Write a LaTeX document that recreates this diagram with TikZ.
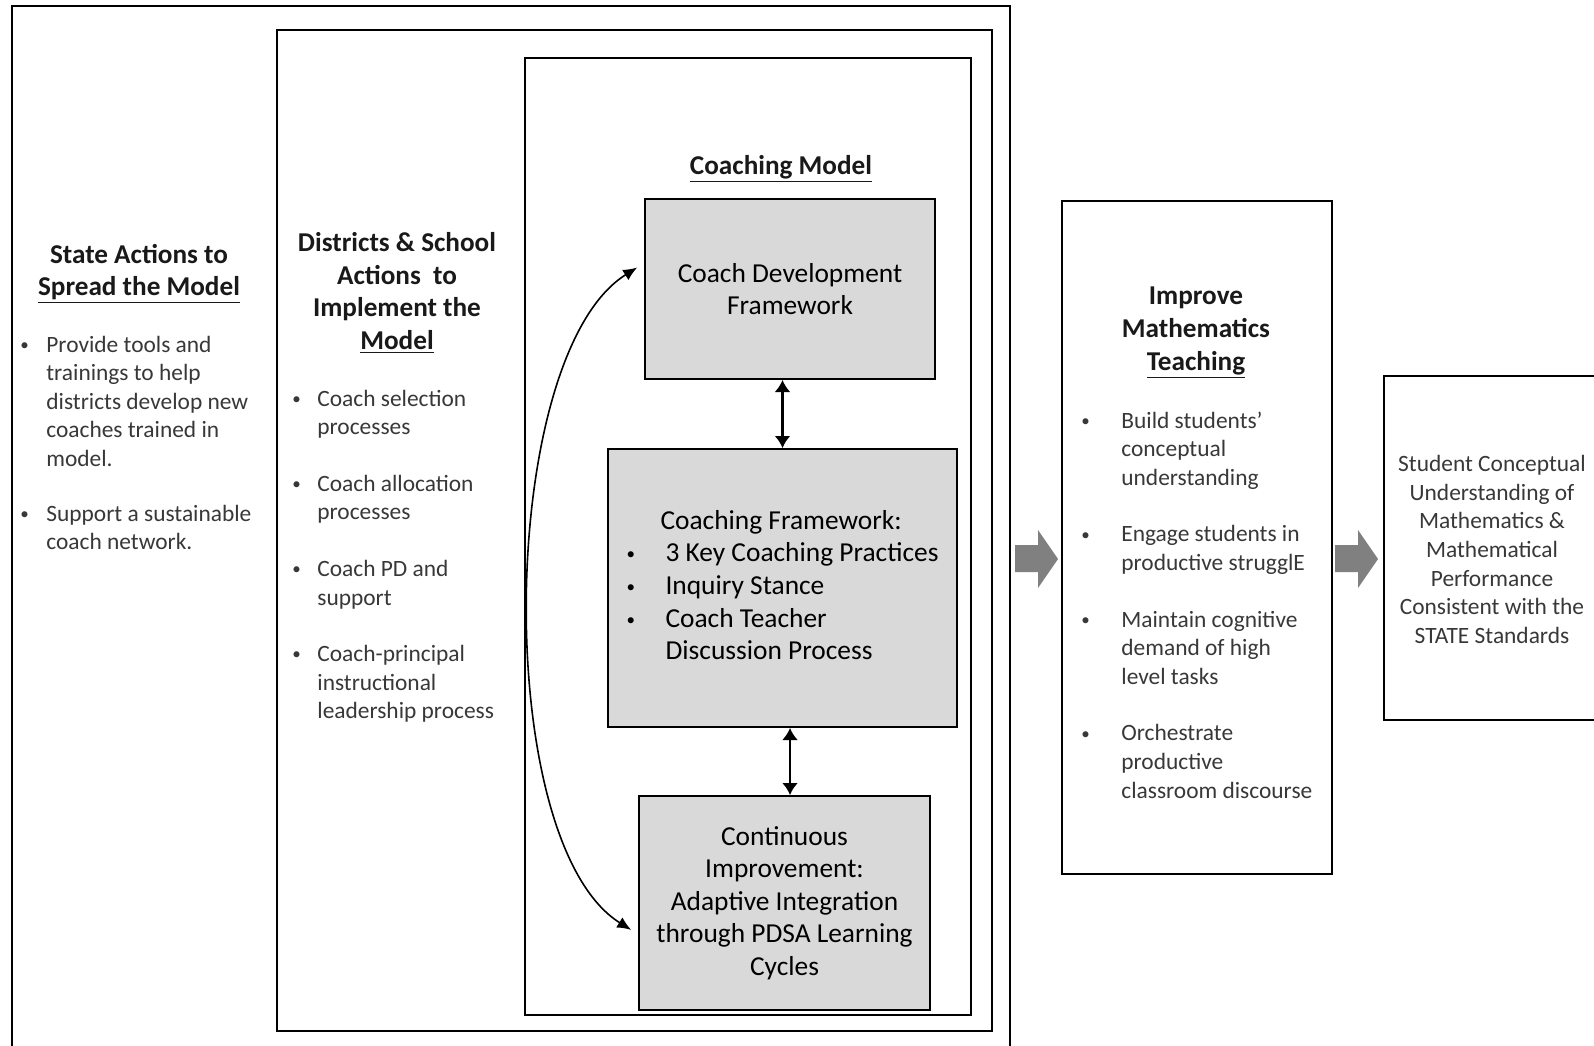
\documentclass[tikz,border=0pt]{standalone}
\usepackage{fontspec}
\setmainfont{Carlito}
\usetikzlibrary{arrows.meta}

\definecolor{boxgray}{HTML}{D9D9D9}
\definecolor{arrowgray}{HTML}{808080}
\definecolor{bodytext}{HTML}{383838}

\newcommand{\bul}[1]{\makebox[#1][l]{\raisebox{0.15ex}{\fontsize{8.5}{8.5}\selectfont\textbullet}}}

\begin{document}
\begin{tikzpicture}[x=0.5pt, y=-0.5pt,
    frame/.style={draw, line width=1pt},
    graybox/.style={draw, line width=1pt, fill=boxgray, align=center, inner sep=0pt,
      font=\fontsize{13.7}{16.3}\selectfont},
    coltitle/.style={align=center, inner sep=0pt, text=black!90,
      font=\bfseries\fontsize{13.6}{16.3}\selectfont},
    coltext/.style={anchor=base west, inner sep=0pt, text=bodytext,
      font=\fontsize{11.7}{14.3}\selectfont},
    linkarrow/.style={{Latex[length=6pt,width=8pt]}-{Latex[length=6pt,width=8pt]}, line width=1.4pt},
    loopback/.style={{Latex[length=7pt,width=6pt]}-{Latex[length=7pt,width=6pt]}, line width=0.8pt}]
    \useasboundingbox (0,0) rectangle (1594,1045);
    \clip (0,0) rectangle (1594,1045);
    \fill[white] (0,0) rectangle (1594,1045);

    % Draw the nested frames
    \draw[frame] (12,6) rectangle (1010,1060);
    \draw[frame] (277,30) rectangle (992,1031);
    \draw[frame] (525,58) rectangle (971,1015);
    \draw[frame] (1062,201) rectangle (1332,874);
    \draw[frame] (1384,376) rectangle (1620,720);

    % State column
    \node[coltitle] (statetitle) at (139,274) {State Actions to\\\underline{Spread the Model}};
    \node[coltext] (statelist) at (20,352) {\begin{tabular}[t]{@{}l@{}l@{}}
        \bul{13pt} & Provide tools and\\
        & trainings to help\\
        & districts develop new\\
        & coaches trained in\\
        & model.\\[13pt]
        \bul{13pt} & Support a sustainable\\
        & coach network.
      \end{tabular}};

    % District column
    \node[coltitle] (disttitle) at (397,293) {Districts \& School\\Actions~~to\\Implement the\\\underline{Model}};
    \node[coltext] (distlist) at (292,406) {\begin{tabular}[t]{@{}l@{}l@{}}
        \bul{12.5pt} & Coach selection\\
        & processes\\[14pt]
        \bul{12.5pt} & Coach allocation\\
        & processes\\[14pt]
        \bul{12.5pt} & Coach PD and\\
        & support\\[14pt]
        \bul{12.5pt} & Coach-principal\\
        & instructional\\
        & leadership process
      \end{tabular}};

    % Coaching model
    \node[coltitle] (cmtitle) at (781,169) {\underline{Coaching Model}};
    \node[graybox, minimum width=145pt, minimum height=90pt] (cdf) at (790,289)
      {Coach Development\\Framework};
    \node[graybox, minimum width=174.5pt, minimum height=139pt] (cfw) at (782.5,588)
      {\begin{tabular}{@{}l@{}l@{}}
        \multicolumn{2}{@{}l@{}}{\hspace{17pt}Coaching Framework:}\\
        \bul{19.5pt} & 3 Key Coaching Practices\\
        \bul{19.5pt} & Inquiry Stance\\
        \bul{19.5pt} & Coach Teacher\\
        & Discussion Process
      \end{tabular}};
    \node[graybox, minimum width=145.5pt, minimum height=107pt] (ci) at (784.5,903)
      {Continuous\\Improvement:\\Adaptive Integration\\through PDSA Learning\\Cycles};

    \draw[linkarrow] (cdf.south -| cfw.north) -- (cfw.north);
    \draw[linkarrow] (cfw.south -| cdf.south) -- (ci.north -| cdf.south);
    \draw[loopback, shorten <=4pt, shorten >=4pt] (cdf.170) to[out=212, in=148, looseness=0.66] (ci.192);

    % Block arrows
    \foreach \ax in {1015,1335}
      \fill[arrowgray] (\ax,545) -- (\ax+23,545) -- (\ax+23,530) -- (\ax+43,559)
        -- (\ax+23,588) -- (\ax+23,572) -- (\ax,572) -- cycle;

    % Teaching column
    \node[coltitle] (imptitle) at (1196,333) {Improve\\Mathematics\\\underline{Teaching}};
    \node[coltext] (implist) at (1081,428) {\begin{tabular}[t]{@{}l@{}l@{}}
        \bul{20pt} & Build students'\\
        & conceptual\\
        & understanding\\[14pt]
        \bul{20pt} & Engage students in\\
        & productive strugglE\\[14pt]
        \bul{20pt} & Maintain cognitive\\
        & demand of high\\
        & level tasks\\[14pt]
        \bul{20pt} & Orchestrate\\
        & productive\\
        & classroom discourse
      \end{tabular}};

    % Outcome
    \node[coltext, anchor=center, align=center] (outcome) at (1492,549.5)
      {Student Conceptual\\Understanding of\\Mathematics \&\\Mathematical\\Performance\\Consistent with the\\STATE Standards};
\end{tikzpicture}
\end{document}
